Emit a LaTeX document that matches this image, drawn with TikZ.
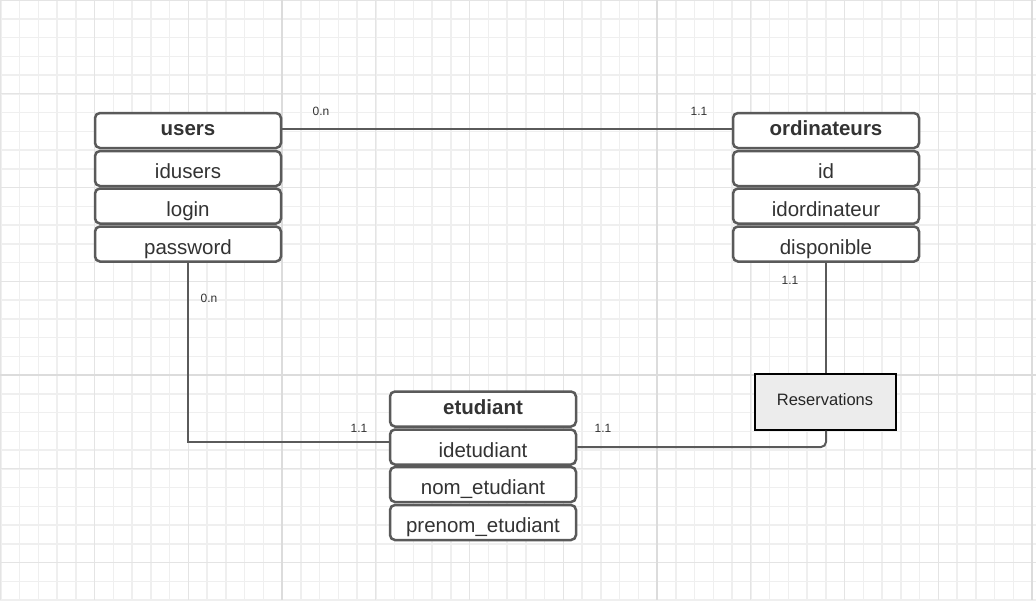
\documentclass[tikz,border=0pt]{standalone}
\usepackage{fontspec}
\setmainfont{Liberation Sans}
\definecolor{gminor}{HTML}{EFEFEF}
\definecolor{gmed}{HTML}{E4E4E4}
\definecolor{gmajor}{HTML}{DCDCDC}
\definecolor{boxline}{HTML}{5A5A5A}
\definecolor{txt}{HTML}{333333}
\definecolor{resfill}{HTML}{ECECEC}
\begin{document}
\begin{tikzpicture}[x=1pt,y=-1pt,
  row/.style={draw=boxline,line width=2.5pt,rounded corners=5pt,fill=white,
    minimum width=186pt,minimum height=35pt,inner sep=0pt,text=txt,
    text height=21.5pt,text depth=1.5pt,
    font=\fontsize{20.5}{24}\selectfont},
  titlerow/.style={row,text height=15pt,text depth=4.2pt,
    font=\fontsize{20.5}{24}\selectfont\bfseries},
  conn/.style={draw=boxline,line width=2pt},
  card/.style={text=txt,font=\fontsize{12}{14}\selectfont,inner sep=0pt},
  resbox/.style={draw=black,line width=2pt,fill=resfill,minimum width=141pt,
    minimum height=56pt,inner sep=0pt,text=black!85,
    text height=12pt,text depth=3.5pt,font=\fontsize{16.5}{19}\selectfont}]
\useasboundingbox (0,0) rectangle (1036,600);
\fill[white] (0,0) rectangle (1036,600);
% grid
\foreach \i in {0,...,55} {
  \draw[gminor,line width=1.5pt] ({0.75+18.75*\i},0) -- ({0.75+18.75*\i},600);
}
\foreach \i in {0,...,32} {
  \draw[gminor,line width=1.5pt] (0,{18.75*\i}) -- (1036,{18.75*\i});
}
\foreach \i in {0,...,11} {
  \draw[gmed,line width=1.2pt] ({0.75+93.75*\i},0) -- ({0.75+93.75*\i},600);
}
\foreach \i in {0,...,6} {
  \draw[gmed,line width=1.2pt] (0,{93.75*\i}) -- (1036,{93.75*\i});
}
\foreach \x in {282,657,1032} {
  \draw[gmajor,line width=2pt] (\x,0) -- (\x,600);
}
\draw[gmajor,line width=2pt] (0,375) -- (1036,375);
% users
\node[titlerow] (users) at (188,130.5) {users};
\node[row] (users1) at (188,168.5) {idusers};
\node[row] (users2) at (188,206) {login};
\node[row] (users3) at (188,244) {password};
% ordinateurs
\node[titlerow] (ord) at (826,130.5) {ordinateurs};
\node[row] (ord1) at (826,168.5) {id};
\node[row] (ord2) at (826,206) {idordinateur};
\node[row] (ord3) at (826,244) {disponible};
% etudiant
\node[titlerow] (etud) at (483,409) {etudiant};
\node[row] (etud1) at (483,447) {idetudiant};
\node[row] (etud2) at (483,484.5) {nom\_etudiant};
\node[row] (etud3) at (483,522.5) {prenom\_etudiant};
% reservations
\node[resbox] (res) at (825,401.5) {Reservations};
% connectors
\draw[conn] ([yshift=2pt]users.east) -- ([yshift=2pt]ord.west);
\draw[conn] (users3.south) |- ([yshift=5pt]etud1.west);
\draw[conn] (ord3.south) -- (ord3.south |- res.north);
\draw[conn,rounded corners=5pt] (ord3.south |- res.south) |- (etud1.east);
% cardinalities
\node[card] (c1) at (321,111) {0.n};
\node[card] (c2) at (699,111) {1.1};
\node[card] (c3) at (209,298) {0.n};
\node[card] (c4) at (359,428) {1.1};
\node[card] (c5) at (790,280) {1.1};
\node[card] (c6) at (603,428) {1.1};
\end{tikzpicture}
\end{document}
